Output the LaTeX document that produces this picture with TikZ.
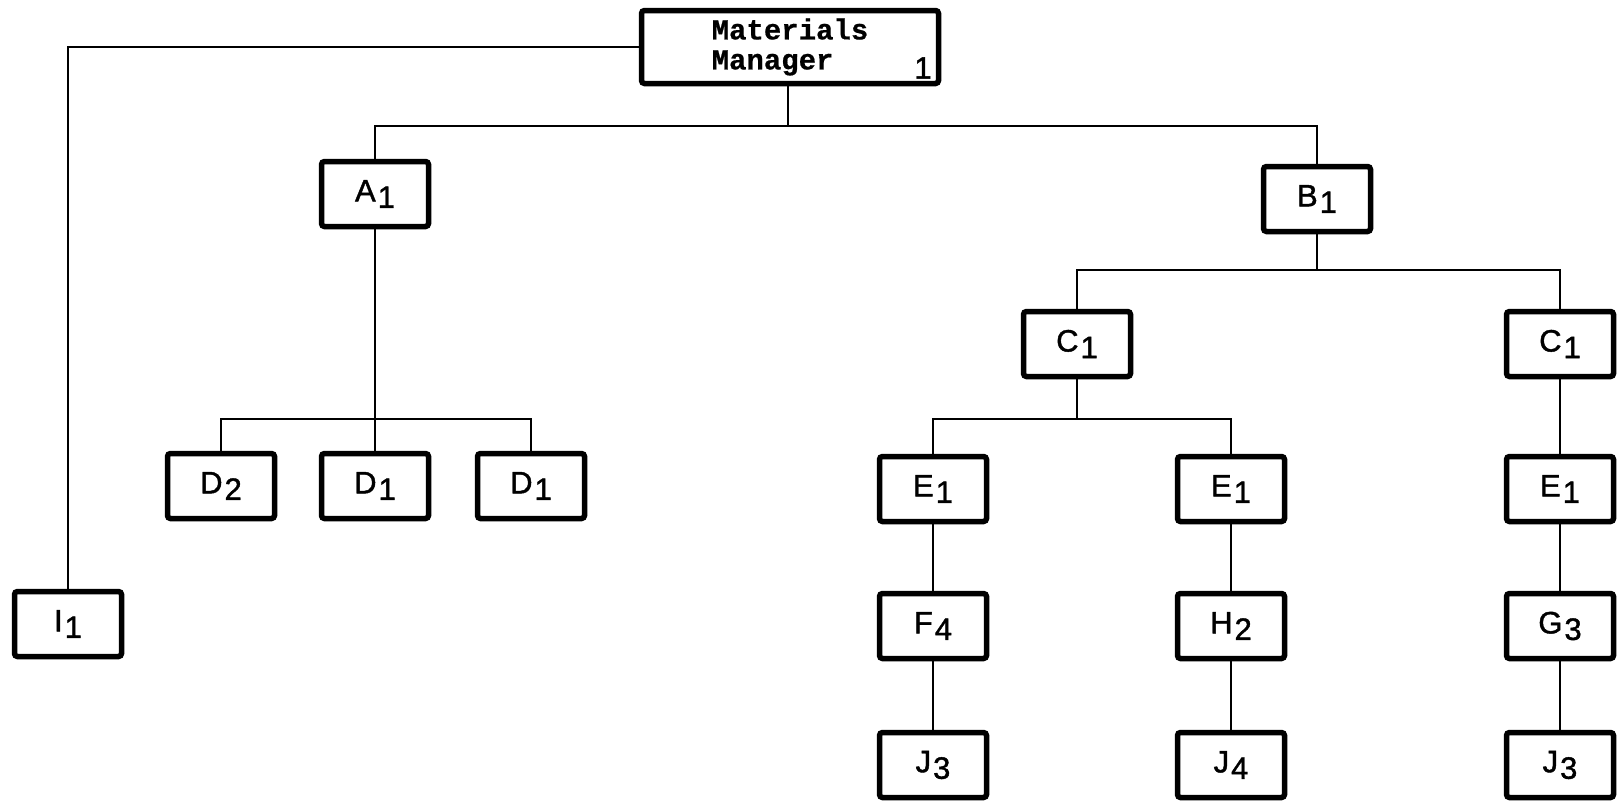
\documentclass[tikz,border=0pt]{standalone}
\usepackage{fontspec}
\setmainfont{Liberation Sans}
\newfontfamily\lettering[FakeBold=1.3]{Liberation Sans}
\newfontfamily\typewriter[FakeBold=0.6]{Liberation Mono}
% part letter followed by its lowered quantity digit
\newcommand\qlab[2]{#1\kern2pt\raisebox{-0.4ex}{#2}}

\begin{document}
\begin{tikzpicture}[x=1pt,y=-1pt,
  part/.style={draw, line width=5.5pt, rounded corners=3pt,
    minimum width=107pt, minimum height=65pt, inner sep=0pt,
    font=\lettering\fontsize{31}{34}\selectfont},
  link/.style={line width=2.6pt}]
\useasboundingbox (0,0) rectangle (1618,803);

% top of the structure
\node[part, minimum width=297pt, minimum height=73pt, align=left,
      font=\typewriter\bfseries\fontsize{29}{30}\selectfont] (mm) at (790,47)
      {Materials\\Manager};
\node[font=\lettering\fontsize{31}{34}\selectfont, inner sep=0pt] (mmq) at (923,68) {1};

% second level
\node[part] (a) at (375,194) {\qlab{A}{1}};
\node[part] (b) at (1317,199) {\qlab{B}{1}};
\node[part] (i) at (68,624) {\qlab{I}{1}};

% parts under A
\node[part] (d2) at (221,486) {\qlab{D}{2}};
\node[part] (d1a) at (375,486) {\qlab{D}{1}};
\node[part] (d1b) at (531,486) {\qlab{D}{1}};

% parts under B
\node[part] (cl) at (1077,344) {\qlab{C}{1}};
\node[part] (cr) at (1560,344) {\qlab{C}{1}};

\node[part] (el) at (933,489) {\qlab{E}{1}};
\node[part] (em) at (1231,489) {\qlab{E}{1}};
\node[part] (er) at (1560,489) {\qlab{E}{1}};

\node[part] (f4) at (933,626) {\qlab{F}{4}};
\node[part] (h2) at (1231,626) {\qlab{H}{2}};
\node[part] (g3) at (1560,626) {\qlab{G}{3}};

\node[part] (jl) at (933,765) {\qlab{J}{3}};
\node[part] (jm) at (1231,765) {\qlab{J}{4}};
\node[part] (jr) at (1560,765) {\qlab{J}{3}};

% bus lines
\coordinate (busab) at (788,126);
\coordinate (busd) at (375,419);
\coordinate (busc) at (1317,270);
\coordinate (buse) at (1077,419);

% connectors
\draw[link] (mm.west) -| (i.north);
\draw[link] (mm.south -| busab) -- (busab);
\draw[link] (a.north) |- (busab) -| (b.north);

\draw[link] (a.south) -- (d1a.north);
\draw[link] (d2.north) |- (busd) -| (d1b.north);

\draw[link] (b.south) -- (busc);
\draw[link] (cl.north) |- (busc) -| (cr.north);

\draw[link] (cl.south) -- (buse);
\draw[link] (el.north) |- (buse) -| (em.north);
\draw[link] (cr.south) -- (er.north);

\draw[link] (el.south) -- (f4.north);
\draw[link] (em.south) -- (h2.north);
\draw[link] (er.south) -- (g3.north);

\draw[link] (f4.south) -- (jl.north);
\draw[link] (h2.south) -- (jm.north);
\draw[link] (g3.south) -- (jr.north);
\end{tikzpicture}
\end{document}
